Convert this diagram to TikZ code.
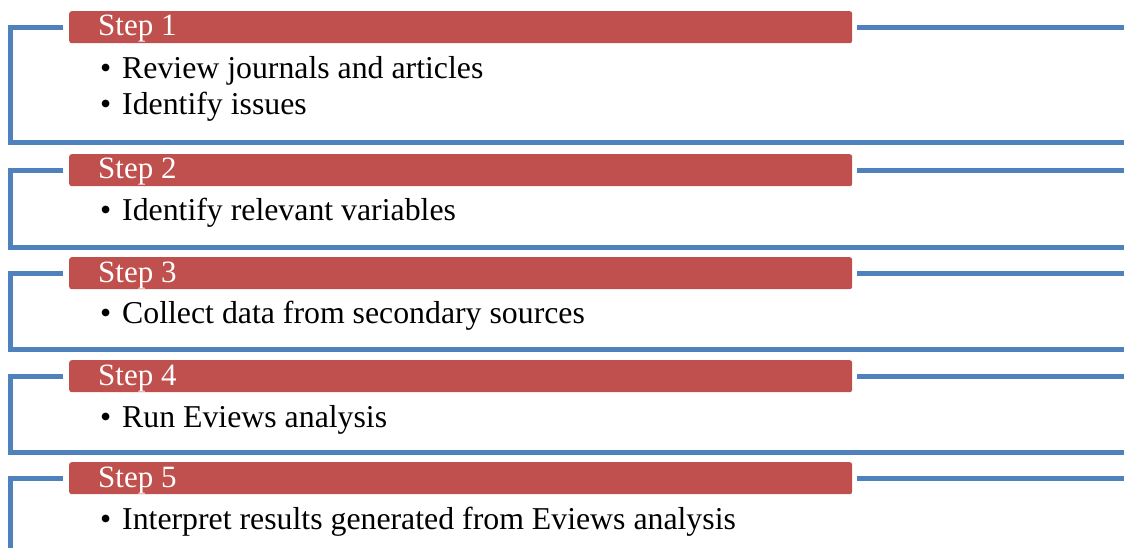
\documentclass[tikz,border=0pt]{standalone}
\usepackage{fontspec}
\setmainfont{Liberation Serif}
\definecolor{barred}{HTML}{C0504D}
\definecolor{frameblue}{HTML}{4F81BD}
\tikzset{
  stepbar/.style={fill=barred, draw=none, rounded corners=2.5pt,
    minimum width=783pt, minimum height=32pt, inner sep=0pt, anchor=north west},
  steplabel/.style={text=white, font=\fontsize{31}{31}\selectfont,
    anchor=base west, inner sep=0pt},
  item/.style={font=\fontsize{31.8}{36}\selectfont, anchor=base west, inner sep=0pt},
  bracket/.style={draw=frameblue, line width=5pt},
}
\begin{document}
\begin{tikzpicture}[x=1pt,y=-1pt]
\useasboundingbox (0,0) rectangle (1124,548);

% Step 1
\node[stepbar] (b1) at (69,11) {};
\node[steplabel] (l1) at (98,36) {Step 1};
\node[item] (d11) at (100,79) {•};
\node[item] (t11) at (122,79) {Review journals and articles};
\node[item] (d12) at (100,115) {•};
\node[item] (t12) at (122,115) {Identify issues};
\coordinate (c1) at (10,143);
\coordinate (e1) at (1124,143);
\draw[bracket] ([xshift=-6pt]b1.west) -| (c1) -- (e1);
\draw[bracket] ([xshift=5pt]b1.east) -- (b1.east -| e1);

% Step 2
\node[stepbar] (b2) at (69,154) {};
\node[steplabel] (l2) at (98,179) {Step 2};
\node[item] (d21) at (100,221) {•};
\node[item] (t21) at (122,221) {Identify relevant variables};
\coordinate (c2) at (10,247);
\coordinate (e2) at (1124,247);
\draw[bracket] ([xshift=-6pt]b2.west) -| (c2) -- (e2);
\draw[bracket] ([xshift=5pt]b2.east) -- (b2.east -| e2);

% Step 3
\node[stepbar] (b3) at (69,257) {};
\node[steplabel] (l3) at (98,282) {Step 3};
\node[item] (d31) at (100,323) {•};
\node[item] (t31) at (122,323) {Collect data from secondary sources};
\coordinate (c3) at (10,349.5);
\coordinate (e3) at (1124,349.5);
\draw[bracket] ([xshift=-6pt]b3.west) -| (c3) -- (e3);
\draw[bracket] ([xshift=5pt]b3.east) -- (b3.east -| e3);

% Step 4
\node[stepbar] (b4) at (69,360) {};
\node[steplabel] (l4) at (98,385) {Step 4};
\node[item] (d41) at (100,427) {•};
\node[item] (t41) at (122,427) {Run Eviews analysis};
\coordinate (c4) at (10,452);
\coordinate (e4) at (1124,452);
\draw[bracket] ([xshift=-6pt]b4.west) -| (c4) -- (e4);
\draw[bracket] ([xshift=5pt]b4.east) -- (b4.east -| e4);

% Step 5 (frame runs off the bottom edge)
\node[stepbar] (b5) at (69,462) {};
\node[steplabel] (l5) at (98,487) {Step 5};
\node[item] (d51) at (100,529) {•};
\node[item] (t51) at (122,529) {Interpret results generated from Eviews analysis};
\coordinate (c5) at (10,556);
\coordinate (e5) at (1124,478);
\draw[bracket] ([xshift=-6pt]b5.west) -| (c5);
\draw[bracket] ([xshift=5pt]b5.east) -- (b5.east -| e5);
\end{tikzpicture}
\end{document}
